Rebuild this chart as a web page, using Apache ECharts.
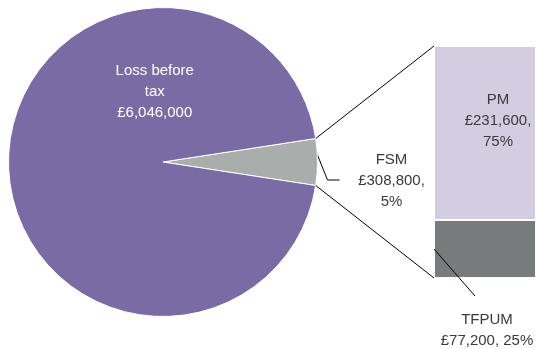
<!DOCTYPE html>
<html><head><meta charset="utf-8">
<script src="https://cdn.jsdelivr.net/npm/echarts@6/dist/echarts.min.js"></script>
<style>html,body{margin:0;padding:0;background:#fff}#c{width:536px;height:349px}</style>
</head><body><div id="c"></div>
<script>
// Pie data
var pieNames = ['FSM', 'Loss before tax'];
var pieValues = [308800, 6046000];
// Bar (breakdown of FSM) data
var barNames = ['TFPUM', 'PM'];
var barValues = [77200, 231600];

var FONT = "'Liberation Sans', Arial, sans-serif";
var TXT = '#3a3a3a';
function fmt(v){ return '£' + v.toLocaleString('en-GB'); }
var pieTotal = pieValues.reduce(function(a,b){return a+b;},0);
var barTotal = barValues.reduce(function(a,b){return a+b;},0);
function pct(v,t){ return Math.round(v/t*100) + '%'; }
function centred(lines, color, w) {
  return {
    formatter: lines.map(function (s) { return '{a|' + s + '}'; }).join('\n'),
    rich: { a: { width: w, align: 'center', fontFamily: FONT, fontSize: 15, lineHeight: 21, color: color } }
  };
}

var lossLbl = centred(['Loss before', 'tax', fmt(pieValues[1])], '#fff', 96);
var fsmLbl = centred([pieNames[0], fmt(pieValues[0]) + ',', pct(pieValues[0], pieTotal)], TXT, 96);
var tfLbl = centred([barNames[0], fmt(barValues[0]) + ', ' + pct(barValues[0], barTotal)], TXT, 110);
var pmLbl = centred([barNames[1], fmt(barValues[1]) + ',', pct(barValues[1], barTotal)], TXT, 96);

var chart = echarts.init(document.getElementById('c'), null, {renderer:'canvas'});
var option = {
  animation: false,
  textStyle: { fontFamily: FONT },
  grid: { left: 434, top: 46, width: 128, height: 232 },
  xAxis: { type: 'category', data: ['FSM'], show: false },
  yAxis: { type: 'value', min: 0, max: barTotal, show: false },
  series: [
    {
      type: 'pie',
      center: [163, 162],
      radius: 154.5,
      startAngle: 180 * pieValues[0] / pieTotal,
      clockwise: true,
      itemStyle: { borderColor: '#fff', borderWidth: 1 },
      labelLayout: function (p) {
        if (p.dataIndex === 1) return { dx: 72, dy: -70 };
        var l = p.labelLinePoints;
        if (!l) return { dy: 19 };
        return { dy: 19, labelLinePoints: [[l[0][0] - 2, l[0][1] - 12], [l[1][0], l[1][1] + 18], [l[2][0], l[2][1] + 18]] };
      },
      data: [
        { name: pieNames[0], value: pieValues[0],
          itemStyle: { color: '#a9adac' },
          label: { show: true, position: 'outside', formatter: fsmLbl.formatter, rich: fsmLbl.rich, distanceToLabelLine: 4 },
          labelLine: { show: true, length: 10, length2: 12, lineStyle: { color: '#000', width: 1 } }
        },
        { name: pieNames[1], value: pieValues[1],
          itemStyle: { color: '#7b6ba5' },
          label: { show: true, position: 'inside', formatter: lossLbl.formatter, rich: lossLbl.rich },
          labelLine: { show: false }
        }
      ]
    },
    {
      type: 'bar', stack: 'fsm', barWidth: '100%',
      name: barNames[0],
      data: [barValues[0]],
      itemStyle: { color: '#777b7c', borderColor: '#fff', borderWidth: 1 },
      label: { show: true, position: 'inside', formatter: tfLbl.formatter, rich: tfLbl.rich },
      labelLine: { show: false },
      labelLayout: { dx: 2, dy: 81 }
    },
    {
      type: 'bar', stack: 'fsm', barWidth: '100%',
      name: barNames[1],
      data: [barValues[1]],
      itemStyle: { color: '#d4cde1', borderColor: '#fff', borderWidth: 1 },
      label: { show: true, position: 'inside', offset: [13, -12], formatter: pmLbl.formatter, rich: pmLbl.rich }
    }
  ]
};
chart.setOption(option);

// connector lines from FSM slice edges to the bar's top-left and bottom-left corners
var lay = chart.getModel().getSeriesByIndex(0).getData().getItemLayout(0);
var p1 = [lay.cx + lay.r * Math.cos(lay.startAngle), lay.cy + lay.r * Math.sin(lay.startAngle)];
var p2 = [lay.cx + lay.r * Math.cos(lay.endAngle), lay.cy + lay.r * Math.sin(lay.endAngle)];
var rect = chart.getModel().getComponent('grid').coordinateSystem.getRect();
var topY = chart.convertToPixel({ yAxisIndex: 0 }, barTotal);
var botY = chart.convertToPixel({ yAxisIndex: 0 }, 0);
var midTF = chart.convertToPixel({ yAxisIndex: 0 }, barValues[0] / 2);
var a = p1[1] < p2[1] ? p1 : p2, b = p1[1] < p2[1] ? p2 : p1;
var zr = chart.getZr();
[[a[0], a[1], rect.x, topY], [b[0], b[1], rect.x, botY], [rect.x, midTF, rect.x + 41, botY + 18]].forEach(function (s) {
  zr.add(new echarts.graphic.Line({
    shape: { x1: s[0], y1: s[1], x2: s[2], y2: s[3] },
    style: { stroke: '#000', lineWidth: 1 }, z: 100
  }));
});
</script></body></html>
